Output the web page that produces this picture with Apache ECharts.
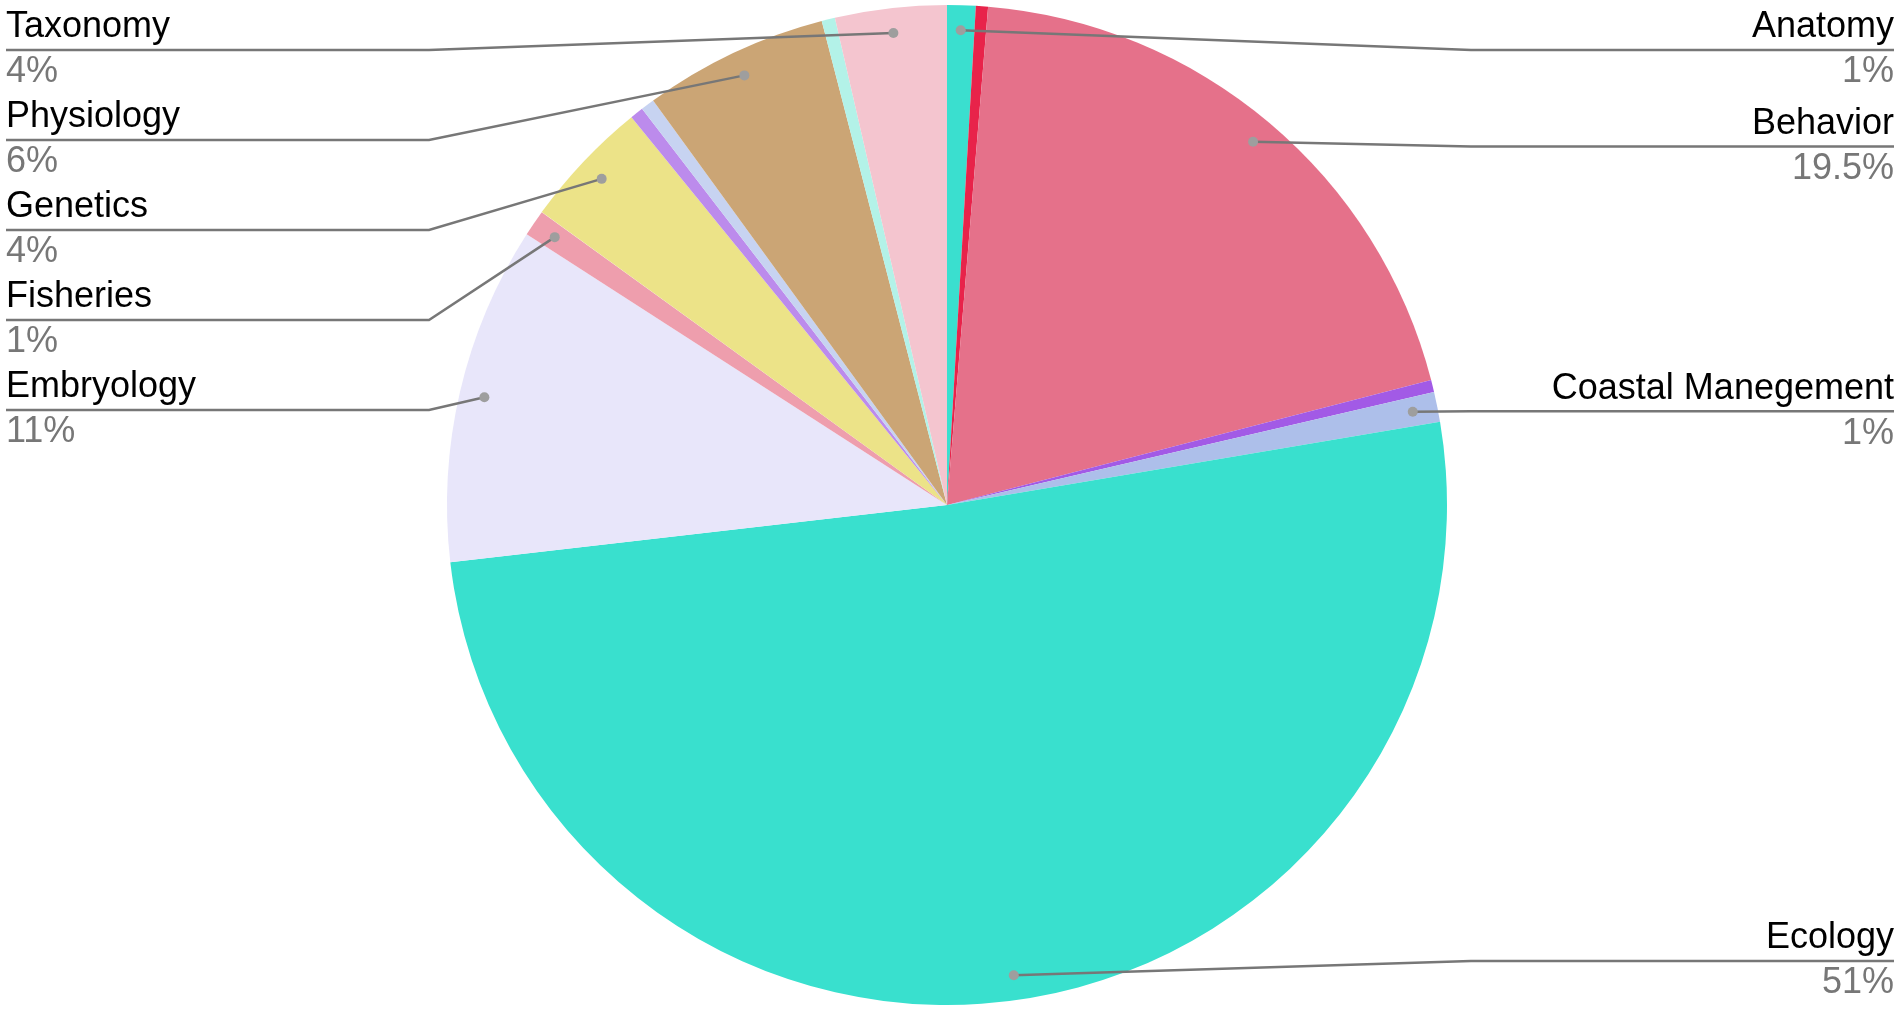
<!DOCTYPE html>
<html>
<head>
<meta charset="utf-8">
<script src="https://cdn.jsdelivr.net/npm/echarts@6/dist/echarts.min.js"></script>
<style>
  html, body { margin: 0; padding: 0; background: #ffffff; }
  #chart { width: 1900px; height: 1014px; }
</style>
</head>
<body>
<div id="chart"></div>
<script>
// ---- data (clockwise from 12 o'clock) ----
const categories = ['Anatomy', '', 'Behavior', '', 'Coastal Manegement', 'Ecology', 'Embryology',
  'Fisheries', 'Genetics', '', '', 'Physiology', '', 'Taxonomy'];
const shares = [0.92, 0.39, 19.67, 0.39, 0.97, 50.83, 10.94, 0.85, 4.17, 0.43, 0.44, 5.97, 0.43, 3.6];
const pctLabels = ['1%', '', '19.5%', '', '1%', '51%', '11%', '1%', '4%', '', '', '6%', '', '4%'];
const sliceColors = ['#3adfcf', '#e8234a', '#e5718a', '#a25ae6', '#adbfea', '#39e0ce', '#e8e6fa',
  '#ee9ead', '#ece388', '#bc8bec', '#c7d3f1', '#cba575', '#b3f2e8', '#f4c5cf'];

// ---- layout / style constants ----
const CX = 947, CY = 505, R = 500, TOP = 5, BOTTOM = 8;
const DOT_RATIO = 0.95;
const SEG = 423;
const FONT = 'Liberation Sans';
const FS = 36;
const LH = 45;

const chart = echarts.init(document.getElementById('chart'), null, { renderer: 'canvas' });

const total = shares.reduce((a, b) => a + b, 0);
const dotData = [];
let acc = 0;
shares.forEach((v, i) => {
  if (pctLabels[i]) dotData.push([DOT_RATIO, acc + v / 2]);
  acc += v;
});

const sliceData = categories.map((name, i) => ({
  name: name, value: shares[i], itemStyle: { color: sliceColors[i] }
}));

const labelData = categories.map((name, i) => {
  const item = { name: name, value: shares[i] };
  if (!pctLabels[i]) {
    item.label = { show: false };
    item.labelLine = { show: false };
  }
  return item;
});

const pieBase = {
  type: 'pie',
  top: TOP,
  bottom: BOTTOM,
  left: 0,
  right: 0,
  center: [CX, CY - TOP],
  radius: R,
  startAngle: 90,
  clockwise: true,
  silent: true
};

const option = {
  animation: false,
  backgroundColor: '#ffffff',
  polar: { center: [CX, CY], radius: [0, R] },
  angleAxis: { type: 'value', min: 0, max: total, startAngle: 90, clockwise: true, show: false },
  radiusAxis: { type: 'value', min: 0, max: 1, show: false },
  series: [
    Object.assign({}, pieBase, {
      z: 2,
      data: sliceData,
      label: { show: false },
      labelLine: { show: false }
    }),
    Object.assign({}, pieBase, {
      z: 5,
      avoidLabelOverlap: true,
      itemStyle: { color: 'rgba(0,0,0,0)' },
      data: labelData,
      label: {
        show: true,
        alignTo: 'edge',
        edgeDistance: 6,
        minMargin: 0,
        fontFamily: FONT,
        fontSize: FS,
        lineHeight: LH,
        color: '#000000',
        formatter: function (p) {
          return '{n|' + p.name + '}\n{p|' + pctLabels[p.dataIndex] + '}';
        },
        rich: {
          n: { fontSize: FS, lineHeight: LH, color: '#000000', fontFamily: FONT },
          p: { fontSize: FS, lineHeight: LH, color: '#777777', fontFamily: FONT }
        }
      },
      labelLine: {
        show: true,
        length: -25,
        length2: 0,
        smooth: false,
        lineStyle: { color: '#777777', width: 2.5 }
      },
      labelLayout: function (params) {
        const isLeft = params.labelRect.x < chart.getWidth() / 2;
        const pts = params.labelLinePoints;
        if (!pts) return {};
        const p0 = pts[0];
        const sx = CX + DOT_RATIO * (p0[0] - CX);
        const sy = CY + DOT_RATIO * (p0[1] - CY);
        const midY = params.labelRect.y + params.labelRect.height / 2;
        const endX = isLeft ? params.labelRect.x : params.labelRect.x + params.labelRect.width;
        const bendX = isLeft ? endX + SEG : endX - SEG;
        return {
          labelLinePoints: [[sx, sy], [bendX, midY], [endX, midY]]
        };
      }
    }),
    {
      type: 'scatter',
      coordinateSystem: 'polar',
      symbol: 'circle',
      symbolSize: 10,
      silent: true,
      z: 10,
      itemStyle: { color: '#9e9e9e', opacity: 1 },
      data: dotData
    }
  ]
};

chart.setOption(option);
</script>
</body>
</html>
